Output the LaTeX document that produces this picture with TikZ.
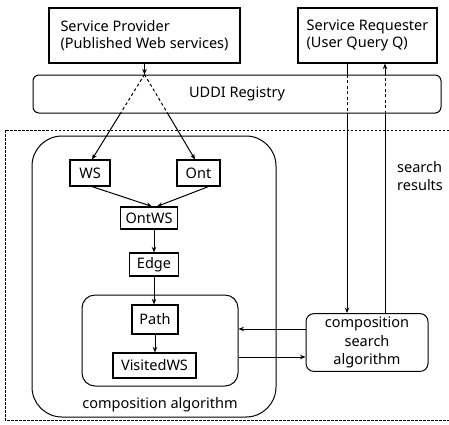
\documentclass[tikz,border=0pt]{standalone}
\usepackage{fontspec}
\setmainfont{Noto Sans}
\usetikzlibrary{arrows.meta,calc}
\begin{document}
\begin{tikzpicture}[x=1pt,y=-1pt,
  font=\fontsize{14.5}{17.5}\selectfont,
  box/.style={draw,line width=1.2pt,inner sep=0pt,align=center},
  rbox/.style={draw,line width=1pt,rounded corners=#1},
  arr/.style={-{Stealth[length=5.5pt,width=4.5pt]},line width=1pt},
  ln/.style={line width=1pt},
  dsh/.style={line width=1pt,dash pattern=on 3pt off 2.5pt}]
\useasboundingbox (0,0) rectangle (449,424);

% outer dashed frame
\draw[line width=0.9pt,dash pattern=on 2.5pt off 1.5pt] (5,130) rectangle (455,420);

% top-level boxes
\node[box,minimum width=191pt,minimum height=55pt,align=left] (sp) at (144.5,35.5)
  {Service Provider\\(Published Web services)};
\node[box,minimum width=139pt,minimum height=55pt,align=left] (sr) at (367.5,35.5)
  {Service Requester\\(User Query Q)};
\node[rbox=6pt,minimum width=408pt,minimum height=38pt] (uddi) at (237,94) {UDDI Registry};

% composition algorithm container
\node[rbox=30pt,minimum width=244pt,minimum height=281pt] (calg) at (154,276.5) {};
\node (calgl) at (160,405) {composition algorithm};

% inner container
\node[rbox=13pt,minimum width=156pt,minimum height=91pt] (inner) at (160,340.5) {};

% data boxes
\node[box,minimum width=40pt,minimum height=26pt] (ws) at (90,173) {WS};
\node[box,minimum width=43pt,minimum height=26pt] (ont) at (198.5,173) {Ont};
\node[box,minimum width=57pt,minimum height=22pt] (ontws) at (149,218) {OntWS};
\node[box,minimum width=49pt,minimum height=23pt] (edge) at (154,264.5) {Edge};
\node[box,minimum width=46pt,minimum height=29pt] (path) at (155,319.5) {Path};
\node[box,minimum width=83pt,minimum height=25pt] (vws) at (154.5,365.5) {VisitedWS};

% composition search algorithm
\node[rbox=8pt,minimum width=122pt,minimum height=57pt,align=center,font=\fontsize{14.5}{18.5}\selectfont] (csa) at (367,342.5)
  {composition\\search\\algorithm};

\node[align=left,anchor=west,inner sep=0pt,font=\fontsize{14.5}{18}\selectfont] (sres) at (397,176) {search\\results};

% provider publishes into the registry
\coordinate (apex) at (sp.south |- uddi.north);
\draw[arr] (sp.south -| apex) -- (apex);
\coordinate (wsin) at ($(ws.north)+(2,0)$);
\coordinate (ontin) at ($(ont.north)+(-3.5,0)$);
\path (apex) -- (wsin) coordinate[pos=0.447] (wsmid);
\path (apex) -- (ontin) coordinate[pos=0.447] (ontmid);
\draw[dsh] (apex) -- (wsmid);
\draw[dsh] (apex) -- (ontmid);
\draw[arr] (wsmid) -- (wsin);
\draw[arr] (ontmid) -- (ontin);

% data flow inside the composition algorithm
\draw[arr] ($(ws.south)+(2,0)$) -- ($(ontws.north)+(3,0)$);
\draw[arr] ($(ont.south)+(10,0)$) -- ($(ontws.north)+(8,0)$);
\draw[arr] (ontws.south -| edge) -- (edge.north);
\draw[arr] (edge.south) -- (path.north -| edge);
\draw[arr] (path.south) -- (vws.north -| path);

% query and results
\coordinate (q) at (347,0);
\coordinate (r) at (385,0);
\draw[ln] (sr.south -| q) -- (uddi.north -| q);
\draw[dsh] (uddi.north -| q) -- (uddi.south -| q);
\draw[arr] (uddi.south -| q) -- (csa.north -| q);
\draw[ln] (csa.north -| r) -- (uddi.south -| r);
\draw[dsh] (uddi.south -| r) -- (uddi.north -| r);
\draw[arr] (uddi.north -| r) -- (sr.south -| r);

% exchange between the search and the composition state
\coordinate (a1) at (0,329);
\coordinate (a2) at (0,357);
\draw[arr] (csa.west |- a1) -- (inner.east |- a1);
\draw[arr] (inner.east |- a2) -- (csa.west |- a2);
\end{tikzpicture}
\end{document}
